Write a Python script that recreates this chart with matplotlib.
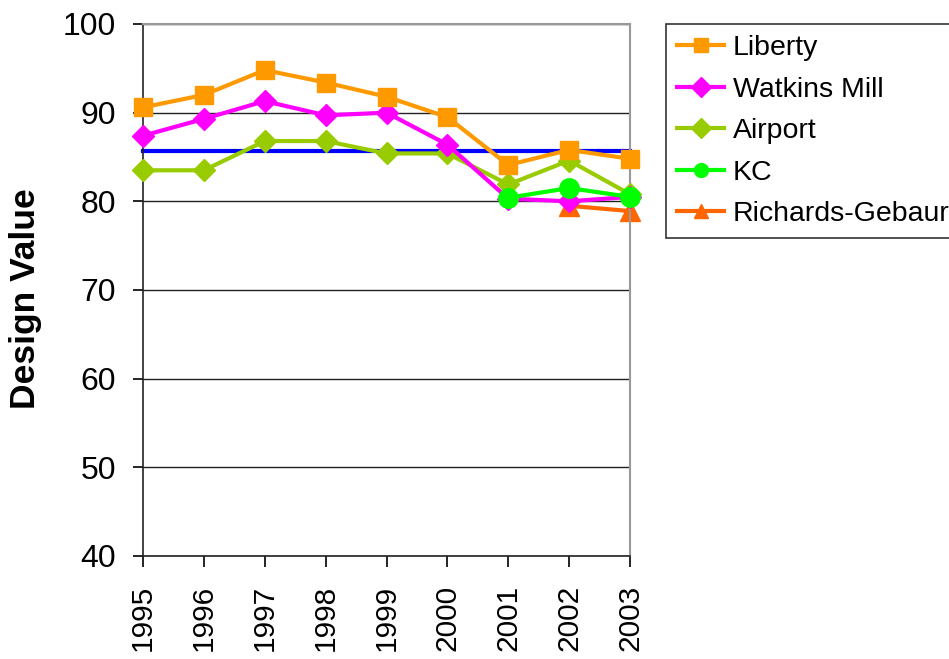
import matplotlib
matplotlib.use("Agg")
import matplotlib.pyplot as plt

years = [1995, 1996, 1997, 1998, 1999, 2000, 2001, 2002, 2003]
liberty = [90.6, 92.0, 94.8, 93.4, 91.8, 89.5, 84.1, 85.8, 84.8]
watkins = [87.4, 89.3, 91.3, 89.7, 90.0, 86.4, 80.3, 80.0, 80.5]
airport = [83.5, 83.5, 86.8, 86.8, 85.4, 85.4, 81.9, 84.6, 80.8]
kc_years = [2001, 2002, 2003]
kc = [80.4, 81.5, 80.5]
rg_years = [2002, 2003]
rg = [79.5, 78.9]
standard = [85.7] * len(years)

plt.rcParams['font.family'] = ['Liberation Sans', 'DejaVu Sans']

fig = plt.figure(figsize=(9.49, 6.59), dpi=100)
ax = fig.add_axes([143/949, 1 - 556/659, (630-143)/949, (556-24)/659])

kw = dict(lw=3, clip_on=False)
ax.plot(years, liberty, color='#FF9900', marker='s', ms=13, label='Liberty', zorder=5, **kw)
ax.plot(years, watkins, color='#FF00FF', marker='D', ms=11, label='Watkins Mill', zorder=4, **kw)
ax.plot(years, airport, color='#99CC00', marker='D', ms=11, label='Airport', zorder=3, **kw)
ax.plot(kc_years, kc, color='#00FF00', marker='o', ms=14, label='KC', zorder=6, **kw)
ax.plot(rg_years, rg, color='#FF6600', marker='^', ms=14, label='Richards-Gebaur', zorder=2, **kw)
ax.plot(years, standard, color='#0000FF', lw=3, zorder=2.5, clip_on=False)

ax.set_xlim(1995, 2003)
ax.set_ylim(40, 100)
ax.set_xticks(years)
ax.set_xticklabels([str(y) for y in years], rotation=90, fontsize=21.5)
ax.set_yticks(range(40, 101, 10))
ax.tick_params(axis='y', labelsize=23, length=7.5, width=1.2, direction='out', pad=12)
ax.tick_params(axis='x', length=8, width=1.2, direction='out', pad=13)
ax.yaxis.grid(True, color='#222222', lw=1)
ax.set_axisbelow(True)
for s in ['top', 'right']:
    ax.spines[s].set_color('#999999')
    ax.spines[s].set_linewidth(1.5)
for s in ['left', 'bottom']:
    ax.spines[s].set_color('#222222')
    ax.spines[s].set_linewidth(1.2)

ax.set_ylabel('Design Value', fontsize=25.5, fontweight='bold')
ax.yaxis.set_label_coords((42 - 143) / 487, (556 - 299) / 532)

leg = fig.legend(loc='upper left', bbox_to_anchor=(666/949, 1 - 24/659), fontsize=20.5,
                 frameon=True, fancybox=False, edgecolor='black', borderpad=0.4,
                 labelspacing=0.54, handlelength=1.65, handletextpad=0.3, borderaxespad=0)
leg.get_frame().set_linewidth(1.2)
for h in leg.legend_handles:
    h.set_markersize(10)

fig.savefig('out.png', dpi=100)
